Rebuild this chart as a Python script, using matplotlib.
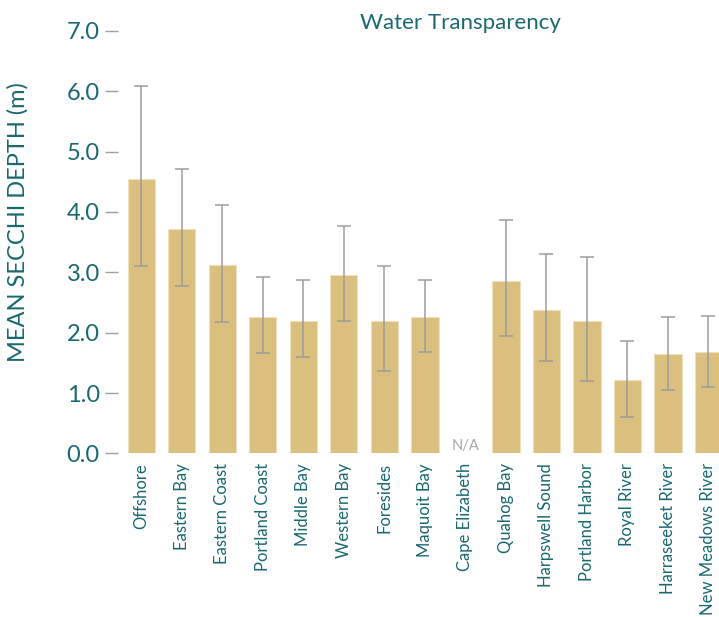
import matplotlib
matplotlib.use("Agg")
import matplotlib.pyplot as plt
import numpy as np

plt.rcParams['font.family'] = ['Lato', 'DejaVu Sans']

# data
sites = ["Offshore", "Eastern Bay", "Eastern Coast", "Portland Coast", "Middle Bay",
         "Western Bay", "Foresides", "Maquoit Bay", "Cape Elizabeth", "Quahog Bay",
         "Harpswell Sound", "Portland Harbor", "Royal River", "Harraseeket River",
         "New Meadows River"]
mean_depth = [4.55, 3.72, 3.13, 2.26, 2.20, 2.96, 2.20, 2.26, np.nan, 2.86,
              2.38, 2.20, 1.22, 1.65, 1.68]
err_low = [3.10, 2.78, 2.18, 1.67, 1.60, 2.20, 1.37, 1.68, np.nan, 1.95,
           1.53, 1.20, 0.61, 1.05, 1.10]
err_high = [6.08, 4.72, 4.12, 2.93, 2.88, 3.77, 3.11, 2.88, np.nan, 3.86,
            3.31, 3.26, 1.87, 2.26, 2.28]
yticks = [0, 1, 2, 3, 4, 5, 6, 7]

teal = "#1a6870"
tan = "#dbbf7e"
grey = "#9c9c9c"

fig = plt.figure(figsize=(7.19, 6.17), dpi=100)
ax = fig.add_axes([0.164, 0.265, 0.836, 0.685])

x = np.arange(len(sites))
vals = np.array(mean_depth)
lo = vals - np.array(err_low)
hi = np.array(err_high) - vals
ok = ~np.isnan(vals)

ax.bar(x[ok], vals[ok], width=0.67, color=tan, edgecolor="#efe0bc", linewidth=0.8, zorder=2)
ax.errorbar(x[ok], vals[ok], yerr=[lo[ok], hi[ok]], fmt="none", ecolor=grey,
            elinewidth=1.1, capsize=5, capthick=1.1, zorder=3)

# missing site
for i in np.where(~ok)[0]:
    ax.text(x[i], 0.0, "N/A", color="#a8a8a8", fontsize=10.5, ha="center", va="bottom")

ax.set_xlim(-0.58, 14.26)
ax.set_ylim(0, 7)
ax.set_yticks(yticks)
ax.set_yticklabels([f"{t:.1f}" for t in yticks], color=teal, fontsize=17)
ax.set_xticks(x)
ax.set_xticklabels(sites, rotation=90, color=teal, fontsize=12)
ax.tick_params(axis="y", length=9.5, width=1, color="#a0a0a0", pad=3.5)
ax.tick_params(axis="x", length=0, pad=7)
for s in ax.spines.values():
    s.set_visible(False)

fig.text(0.025, 0.64, "MEAN SECCHI DEPTH (m)", rotation=90, color=teal, fontsize=17,
         ha="center", va="center")
fig.text(0.64, 0.963, "Water Transparency", color=teal, fontsize=16, ha="center", va="center")

fig.savefig("out.png", dpi=100)
